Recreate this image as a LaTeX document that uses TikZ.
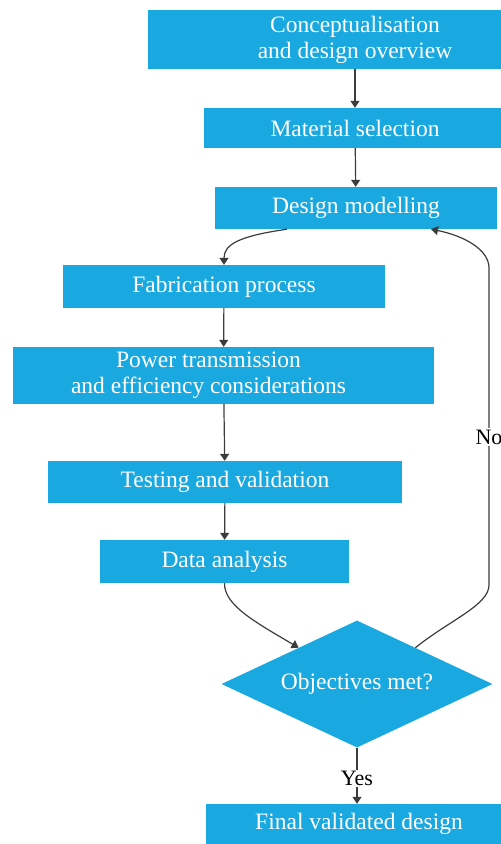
\documentclass[tikz,border=0pt]{standalone}
\usepackage{fontspec}
\setmainfont{Liberation Serif}
\usetikzlibrary{shapes.geometric,arrows.meta,calc}
\definecolor{boxblue}{RGB}{26,168,224}
\definecolor{linegray}{RGB}{60,60,60}

\begin{document}
\begin{tikzpicture}[
  x=1pt, y=-1pt,
  stepbox/.style={rectangle, fill=boxblue, text=white, align=center,
                  font=\fontsize{23.5}{26}\selectfont, inner sep=0pt},
  checkbox/.style={diamond, fill=boxblue, text=white, aspect=2.1,
                   font=\fontsize{23.5}{26}\selectfont, inner sep=0pt,
                   minimum width=271pt, minimum height=127pt},
  answer/.style={fill=white, text=black, inner sep=1.5pt,
                 font=\fontsize{22}{26}\selectfont},
  flow/.style={draw=linegray, line width=1.2pt,
               -{Triangle[length=7pt,width=9pt]}}
]
  \useasboundingbox (0,0) rectangle (501,844);
  \clip (0,0) rectangle (501,844);

  \node[stepbox, minimum width=414pt, minimum height=59pt] (concept) at (355,39.5)
    {Conceptualisation\\and design overview};
  \node[stepbox, minimum width=302pt, minimum height=40pt] (material) at (355,128)
    {Material selection};
  \node[stepbox, minimum width=282pt, minimum height=42pt] (design) at (356,208)
    {Design modelling};
  \node[stepbox, minimum width=322pt, minimum height=43pt] (fab) at (224,286.5)
    {Fabrication process};
  % text sits a little left of the box centre here
  \node[stepbox, minimum width=421pt, minimum height=57pt,
        label={[stepbox, xshift=-15pt]center:{Power transmission\\and efficiency considerations}}]
    (power) at (223.5,375.5) {};
  \node[stepbox, minimum width=354pt, minimum height=42pt] (test) at (225,482)
    {Testing and validation};
  \node[stepbox, minimum width=249pt, minimum height=43pt] (data) at (224.5,561.5)
    {Data analysis};
  \node[checkbox] (check) at (357,684) {Objectives met?};
  \node[stepbox, minimum width=306pt, minimum height=40pt] (final) at (359,824)
    {Final validated design};

  % straight steps
  \draw[flow] (concept) -- (material);
  \draw[flow] (material) -- (design);
  \draw[flow] (fab) -- (power);
  \draw[flow] (power) -- (test);
  \draw[flow] (test) -- (data);
  \draw[flow] (check.south) -- node[answer, pos=0.55] {Yes} (check.south |- final.north);

  % curved links
  \draw[flow] ([xshift=-69pt]design.south) .. controls (240,236) and (224,244) .. (fab.north);
  \draw[flow] (data.south) .. controls (224,605) and (255,622) .. ($(check.north)!0.43!(check.west)$);

  % loop back when the objectives are not met
  \coordinate (nolow) at (489,585);
  \coordinate (nohigh) at (489,268);
  \draw[flow] ($(check.north)!0.43!(check.east)$) .. controls (450,620) and (489,605) .. (nolow)
    -- node[answer, pos=0.467] {No} (nohigh)
    .. controls (489,250) and (465,236) .. ([xshift=75pt]design.south);
\end{tikzpicture}
\end{document}
